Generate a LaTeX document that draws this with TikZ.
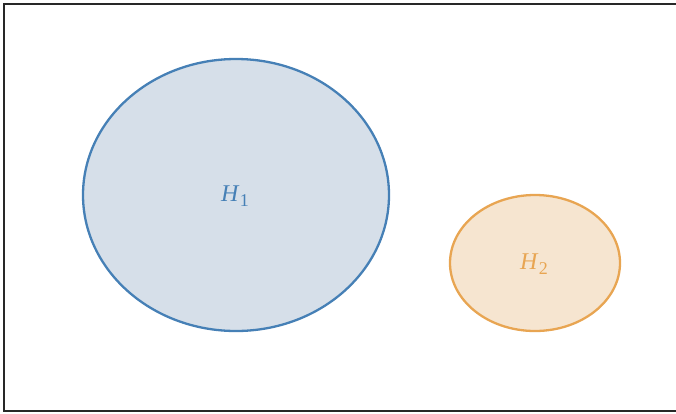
\documentclass[tikz,border=0pt]{standalone}
\usepackage{fontspec}
\setmainfont{Liberation Serif}
\usetikzlibrary{shapes.geometric}
\definecolor{bstroke}{RGB}{70,128,182}
\definecolor{bfill}{RGB}{214,223,233}
\definecolor{ostroke}{RGB}{232,165,82}
\definecolor{ofill}{RGB}{246,229,208}
\definecolor{frame}{RGB}{40,40,40}
\newcommand{\hsub}[1]{\textit{H}\kern0.3pt\raisebox{-0.22em}{\fontsize{18}{20}\selectfont #1}}
\tikzset{
  setshape/.style={ellipse, line width=2.3pt, inner sep=0pt},
  lbl/.style={font=\fontsize{24}{28}\selectfont}
}
\begin{document}
\begin{tikzpicture}[x=1pt,y=-1pt]
\useasboundingbox (0,0) rectangle (676,413);
\draw[frame, line width=1.6pt] (680,4) -- (4,4) -- (4,411) -- (680,411);
\node[setshape, draw=bstroke, fill=bfill, minimum width=306pt, minimum height=272pt] (h1) at (236,195) {};
\node[setshape, draw=ostroke, fill=ofill, minimum width=170pt, minimum height=136pt] (h2) at (535,263) {};
\node[lbl, text=bstroke] (t1) at (235,196) {\hsub{1}};
\node[lbl, text=ostroke] (t2) at (534,264) {\hsub{2}};
\end{tikzpicture}
\end{document}
